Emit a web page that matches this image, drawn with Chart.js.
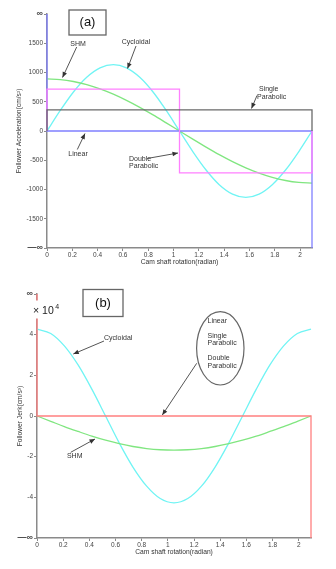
<!DOCTYPE html>
<html>
<head>
<meta charset="utf-8">
<script src="https://cdn.jsdelivr.net/npm/chart.js@4.4.1/dist/chart.umd.min.js"></script>
<style>
  html, body { margin: 0; padding: 0; background: #fff; }
  #wrapA { position: absolute; left: 0; top: 0; width: 336px; height: 276px; }
  #wrapB { position: absolute; left: 0; top: 280px; width: 336px; height: 289px; }
</style>
</head>
<body>
<div id="wrapA"><canvas id="accChart"></canvas></div>
<div id="wrapB"><canvas id="jerkChart"></canvas></div>
<script>
// cam rotation (rad), rise over 0 .. 2.094
const theta = [0, 0.105, 0.209, 0.314, 0.419, 0.524, 0.628, 0.733, 0.838, 0.942, 1.047,
               1.152, 1.257, 1.361, 1.466, 1.571, 1.676, 1.780, 1.885, 1.990, 2.094];

// (a) follower acceleration, cm/s^2
const cycloidalAcc = [0, 351, 667, 918, 1079, 1135, 1079, 918, 667, 351, 0,
                      -351, -667, -918, -1079, -1135, -1079, -918, -667, -351, 0];
const shmAcc = [890, 879, 846, 793, 720, 629, 523, 404, 275, 139, 0,
                -139, -275, -404, -523, -629, -720, -793, -846, -879, -890];
const linearX = [0, 0, 2.094, 2.094];
const linearAcc = [2000, 0, 0, -2000];          // +inf / -inf spikes
const singleParX = [0, 0, 2.094, 2.094];
const singleParAcc = [0, 360, 360, 0];
const doubleParX = [0, 0, 1.047, 1.047, 2.094, 2.094];
const doubleParAcc = [0, 715, 715, -715, -715, 0];

// (b) follower jerk, x 10^4 cm/s^3
const cycloidalJerk = [4.27, 4.06, 3.45, 2.51, 1.32, 0, -1.32, -2.51, -3.45, -4.06, -4.27,
                       -4.06, -3.45, -2.51, -1.32, 0, 1.32, 2.51, 3.45, 4.06, 4.27];
const shmJerk = [0, -0.26, -0.52, -0.76, -0.99, -1.19, -1.36, -1.5, -1.6, -1.66, -1.68,
                 -1.66, -1.6, -1.5, -1.36, -1.19, -0.99, -0.76, -0.52, -0.26, 0];
const parJerkX = [0, 0, 2.094, 2.094];
const parJerk = [6, 0, 0, -6];

const xTicks = [0, 0.2, 0.4, 0.6, 0.8, 1, 1.2, 1.4, 1.6, 1.8, 2];
const accTicks = [-2000, -1500, -1000, -500, 0, 500, 1000, 1500, 2000];
const jerkTicks = [-6, -4, -2, 0, 2, 4, 6];

const FONT = "'Liberation Sans', Arial, sans-serif";

function pts(xs, ys) {
    return xs.map((x, i) => ({ x: x, y: ys[i] }));
}

function line(label, xs, ys, color, order, smooth) {
    return {
        label: label,
        data: pts(xs, ys),
        borderColor: color,
        borderWidth: 1.3,
        pointRadius: 0,
        fill: false,
        clip: 4,
        order: order,
        cubicInterpolationMode: smooth ? 'monotone' : 'default',
        tension: 0
    };
}

function drawArrow(ctx, x1, y1, x2, y2) {
    const a = Math.atan2(y2 - y1, x2 - x1);
    ctx.beginPath();
    ctx.moveTo(x1, y1);
    ctx.lineTo(x2, y2);
    ctx.stroke();
    ctx.beginPath();
    ctx.moveTo(x2, y2);
    ctx.lineTo(x2 - 5.5 * Math.cos(a) + 2.3 * Math.sin(a), y2 - 5.5 * Math.sin(a) - 2.3 * Math.cos(a));
    ctx.lineTo(x2 - 5.5 * Math.cos(a) - 2.3 * Math.sin(a), y2 - 5.5 * Math.sin(a) + 2.3 * Math.cos(a));
    ctx.closePath();
    ctx.fill();
}

// notes: texts, arrows, framed panel tag
function notesPlugin(notes) {
    return {
        id: 'notes',
        afterDraw(chart) {
            const ctx = chart.ctx;
            ctx.save();
            ctx.strokeStyle = '#555';
            ctx.fillStyle = '#333';
            ctx.lineWidth = 1;
            ctx.font = '7px ' + FONT;
            ctx.textBaseline = 'middle';
            notes.texts.forEach(t => {
                ctx.textAlign = t.align;
                ctx.fillText(t.t, t.x, t.y);
            });
            notes.arrows.forEach(a => drawArrow(ctx, a[0], a[1], a[2], a[3]));
            if (notes.ellipse) {
                const e = notes.ellipse;
                ctx.beginPath();
                ctx.ellipse(e.x, e.y, e.rx, e.ry, 0, 0, Math.PI * 2);
                ctx.strokeStyle = '#666';
                ctx.lineWidth = 1.2;
                ctx.stroke();
            }
            if (notes.scale) {
                const s = notes.scale;
                ctx.fillStyle = '#fff';
                ctx.fillRect(s.x - 1, s.y - 13, 34, 18);
                ctx.fillStyle = '#222';
                ctx.textAlign = 'left';
                ctx.textBaseline = 'alphabetic';
                ctx.font = '10.5px ' + FONT;
                ctx.fillText('\u00d7 10', s.x, s.y);
                const w = ctx.measureText('\u00d7 10').width;
                ctx.font = '7px ' + FONT;
                ctx.fillText('4', s.x + w + 1.5, s.y - 5);
            }
            const b = notes.box;
            ctx.strokeStyle = '#666';
            ctx.lineWidth = 1.3;
            ctx.strokeRect(b.x, b.y, b.w, b.h);
            ctx.fillStyle = '#111';
            ctx.font = '13px ' + FONT;
            ctx.textAlign = 'center';
            ctx.textBaseline = 'middle';
            ctx.fillText(b.t, b.x + b.w / 2, b.y + b.h / 2);
            ctx.restore();
        }
    };
}

function makeChart(id, datasets, cfg) {
    const inf = cfg.yTicks[cfg.yTicks.length - 1];
    return new Chart(document.getElementById(id), {
        type: 'line',
        data: { datasets: datasets },
        options: {
            responsive: true,
            maintainAspectRatio: false,
            animation: false,
            events: [],
            layout: { padding: { left: 0, top: 14, right: cfg.padRight, bottom: 0 } },
            plugins: { legend: { display: false }, tooltip: { enabled: false } },
            scales: {
                x: {
                    type: 'linear',
                    min: 0,
                    max: 2.094,
                    afterBuildTicks: s => { s.ticks = xTicks.map(v => ({ value: v })); },
                    afterFit: s => { s.height = cfg.xAxisH; },
                    border: { color: '#8a8a8a', width: 1.5 },
                    grid: { drawOnChartArea: false, tickLength: 3, color: '#8a8a8a' },
                    ticks: {
                        color: '#444', padding: 0, maxRotation: 0, autoSkip: false,
                        font: { family: FONT, size: 6.5 },
                        callback: v => String(+v.toFixed(1))
                    },
                    title: {
                        display: true, text: 'Cam shaft rotation(radian)', color: '#333',
                        font: { family: FONT, size: 6.7 }, padding: { top: 0, bottom: cfg.xTitlePad }
                    }
                },
                y: {
                    type: 'linear',
                    min: -inf,
                    max: inf,
                    afterBuildTicks: s => { s.ticks = cfg.yTicks.map(v => ({ value: v })); },
                    afterFit: s => { s.width = cfg.yAxisW; },
                    border: { color: '#8a8a8a', width: 1.5 },
                    grid: { drawOnChartArea: false, tickLength: 3, color: '#8a8a8a' },
                    ticks: {
                        color: '#444', padding: 1, autoSkip: false,
                        font: c => ({ family: FONT, size: (c.tick && Math.abs(c.tick.value) === inf) ? 9 : 6.5,
                                      weight: (c.tick && Math.abs(c.tick.value) === inf) ? 'bold' : 'normal' }),
                        callback: v => v === inf ? '\u221e' : (v === -inf ? '\u2014\u221e' : String(v))
                    },
                    title: {
                        display: true, text: cfg.yTitle, color: '#333',
                        font: { family: FONT, size: 6.7 }, padding: { top: cfg.yTitlePad, bottom: 0 }
                    }
                }
            }
        },
        plugins: [notesPlugin(cfg.notes)]
    });
}

makeChart('accChart', [
    line('Single Parabolic', singleParX, singleParAcc, '#6a6a6a', 0, false),
    line('Double Parabolic', doubleParX, doubleParAcc, '#ff80ff', 1, false),
    line('Linear', linearX, linearAcc, '#8080ff', 2, false),
    line('SHM', theta, shmAcc, '#80e680', 3, true),
    line('Cycloidal', theta, cycloidalAcc, '#70f4f4', 4, true)
], {
    yTicks: accTicks,
    padRight: 24,
    xAxisH: 28,
    yAxisW: 47,
    xTitlePad: 9.8,
    yTitlePad: 14.8,
    yTitle: 'Follower Acceleration(cm/s\u00b2)',
    notes: {
        texts: [
            { t: 'SHM', x: 78, y: 44, align: 'center' },
            { t: 'Cycloidal', x: 136, y: 42.5, align: 'center' },
            { t: 'Single', x: 259, y: 89, align: 'left' },
            { t: 'Parabolic', x: 257, y: 96.7, align: 'left' },
            { t: 'Linear', x: 78, y: 154.3, align: 'center' },
            { t: 'Double', x: 129, y: 158.7, align: 'left' },
            { t: 'Parabolic', x: 129, y: 166, align: 'left' }
        ],
        arrows: [
            [76.7, 47, 62.5, 77.5],
            [136, 46, 127.5, 68.5],
            [257, 95.5, 251.5, 108.5],
            [77.3, 149.5, 85, 133.5],
            [147, 158.5, 178, 153]
        ],
        box: { t: '(a)', x: 69, y: 10, w: 37, h: 25 }
    }
});

makeChart('jerkChart', [
    line('Linear / Single / Double Parabolic', parJerkX, parJerk, '#ff8080', 0, false),
    line('SHM', theta, shmJerk, '#80e680', 1, true),
    line('Cycloidal', theta, cycloidalJerk, '#70f4f4', 2, true)
], {
    yTicks: jerkTicks,
    padRight: 25,
    xAxisH: 31,
    yAxisW: 37,
    xTitlePad: 12.8,
    yTitlePad: 16.5,
    yTitle: 'Follower Jerk(cm/s\u00b3)',
    notes: {
        texts: [
            { t: 'Cycloidal', x: 104, y: 58.5, align: 'left' },
            { t: 'Linear', x: 207.5, y: 40.7, align: 'left' },
            { t: 'Single', x: 207.5, y: 56, align: 'left' },
            { t: 'Parabolic', x: 207.5, y: 62.7, align: 'left' },
            { t: 'Double', x: 207.5, y: 78, align: 'left' },
            { t: 'Parabolic', x: 207.5, y: 85.7, align: 'left' },
            { t: 'SHM', x: 74.7, y: 176, align: 'center' }
        ],
        arrows: [
            [104, 61, 73.3, 74],
            [196.7, 83.3, 162.3, 135],
            [70.7, 172.3, 95, 159]
        ],
        ellipse: { x: 220.3, y: 68.3, rx: 23.7, ry: 36.7 },
        scale: { x: 33, y: 33.5 },
        box: { t: '(b)', x: 83, y: 9.5, w: 40, h: 27 }
    }
});
</script>
</body>
</html>
